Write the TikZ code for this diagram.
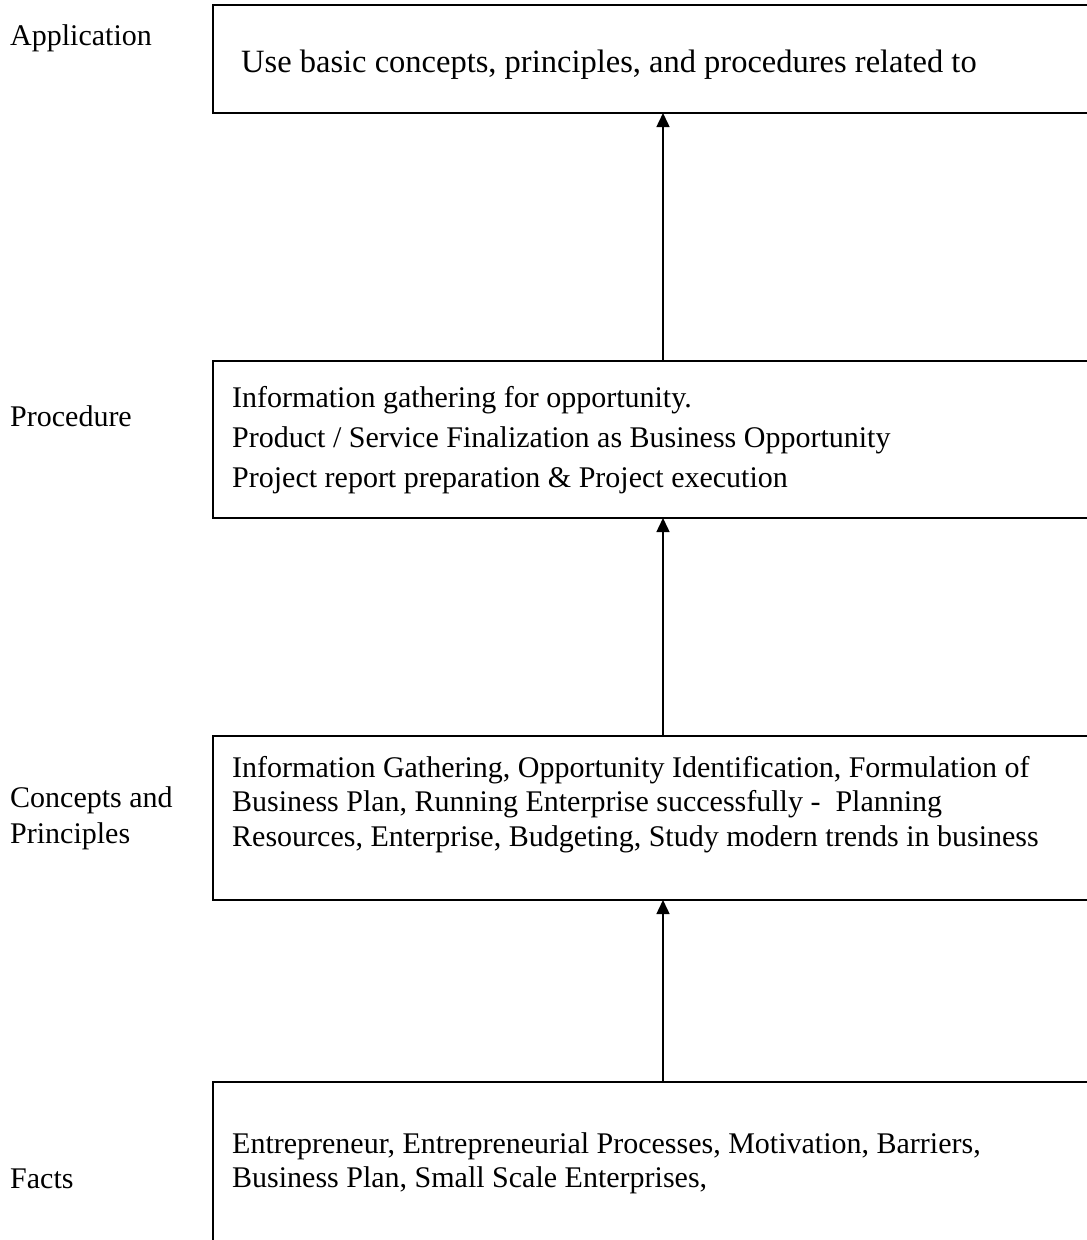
\documentclass[tikz,border=0pt]{standalone}
\usepackage{fontspec}
\setmainfont{Liberation Serif}
\usetikzlibrary{arrows.meta}
\begin{document}
\begin{tikzpicture}[x=1pt,y=-1pt,
  level/.style={draw=none,inner sep=0pt,anchor=base west,font=\fontsize{30}{38}\selectfont},
  line/.style={inner sep=0pt,anchor=base west,font=\fontsize{30}{38}\selectfont},
  bigline/.style={line,font=\fontsize{32.5}{40}\selectfont},
  frame/.style={draw,line width=1.6pt},
  up/.style={line width=1.5pt,-{Triangle[width=13pt,length=14pt]}}]
\useasboundingbox (0,0) rectangle (1087,1240);
\clip (0,0) rectangle (1087,1240);
\fill[white] (0,0) rectangle (1087,1240);

% level boxes (right and lower edges run past the page)
\draw[frame] (213,5) rectangle (1110,113);
\draw[frame] (213,361) rectangle (1110,518);
\draw[frame] (213,736) rectangle (1110,900);
\draw[frame] (213,1082) rectangle (1110,1270);

\coordinate (a1) at (663,113);
\coordinate (p0) at (663,361);
\coordinate (p1) at (663,518);
\coordinate (c0) at (663,736);
\coordinate (c1) at (663,900);
\coordinate (f0) at (663,1082);

% left-hand level names
\node[level] (lapp) at (10,45) {Application};
\node[level] (lproc) at (10,426) {Procedure};
\node[level] (lcon1) at (10,807) {Concepts and};
\node[level] (lcon2) at (10,843) {Principles};
\node[level] (lfact) at (10,1188) {Facts};

% box contents
\node[bigline] (t1) at (241,72) {Use basic concepts, principles, and procedures related to};

\node[line] (t21) at (232,407) {Information gathering for opportunity.};
\node[line] (t22) at (232,447) {Product / Service Finalization as Business Opportunity};
\node[line] (t23) at (232,487) {Project report preparation \& Project execution};

\node[line] (t31) at (232,777) {Information Gathering, Opportunity Identification, Formulation of};
\node[line] (t32) at (232,811) {Business Plan, Running Enterprise successfully -\ \ Planning};
\node[line] (t33) at (232,846) {Resources, Enterprise, Budgeting, Study modern trends in business};

\node[line] (t41) at (232,1153) {Entrepreneur, Entrepreneurial Processes, Motivation, Barriers,};
\node[line] (t42) at (232,1187) {Business Plan, Small Scale Enterprises,};

% connectors
\draw[up] (p0) -- (a1);
\draw[up] (c0) -- (p1);
\draw[up] (f0) -- (c1);
\end{tikzpicture}
\end{document}
